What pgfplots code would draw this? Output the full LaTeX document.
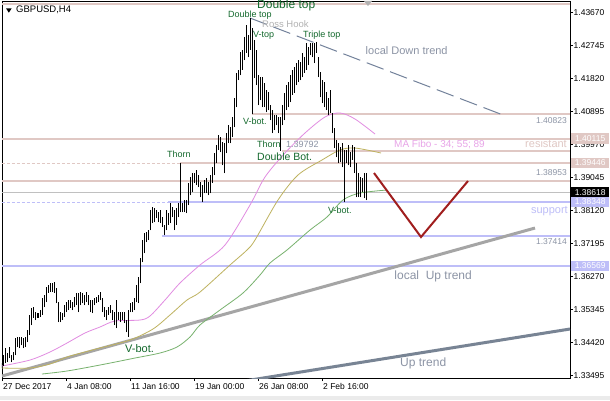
\documentclass[border=0pt]{standalone}
\usepackage{fontspec}
\setmainfont{Liberation Sans}
\usepackage{pgfplots}
\usepackage{pgfplotstable}
\pgfplotsset{compat=1.18}

\definecolor{rosy}{RGB}{224,200,196}
\definecolor{lav}{RGB}{190,190,248}
\definecolor{curgray}{RGB}{192,192,192}
\definecolor{lblgreen}{RGB}{20,105,45}
\definecolor{trendgray}{RGB}{165,165,165}
\definecolor{slate}{RGB}{120,132,148}
\definecolor{dnslate}{RGB}{115,130,155}
\definecolor{txtgray}{RGB}{140,148,165}
\definecolor{mapink}{RGB}{225,140,225}
\definecolor{maolive}{RGB}{190,178,95}
\definecolor{magreen}{RGB}{120,178,110}
\definecolor{vred}{RGB}{160,30,30}
\definecolor{fibopink}{RGB}{232,165,232}

\newcommand\fs[1]{\fontsize{#1}{#1}\selectfont}

% H4 bars: index, low, high
\pgfplotstableread{
i lo hi
0 1.33700 1.33840
1 1.33756 1.34065
2 1.33840 1.34261
3 1.33868 1.34121
4 1.33981 1.34289
5 1.33868 1.34065
6 1.33924 1.34149
7 1.34065 1.34542
8 1.34289 1.34570
9 1.34261 1.34570
10 1.34345 1.34570
11 1.34261 1.34542
12 1.34289 1.34570
13 1.34429 1.34766
14 1.34626 1.35187
15 1.34906 1.35383
16 1.35103 1.35411
17 1.35046 1.35271
18 1.35103 1.35243
19 1.35131 1.35327
20 1.35187 1.35664
21 1.35411 1.35748
22 1.35551 1.35972
23 1.35804 1.36028
24 1.35832 1.36084
25 1.35832 1.36084
26 1.35804 1.36112
27 1.35523 1.35944
28 1.34990 1.35551
29 1.34990 1.35271
30 1.35046 1.35243
31 1.35131 1.35467
32 1.35271 1.35551
33 1.35327 1.35607
34 1.35383 1.35607
35 1.35327 1.35551
36 1.35411 1.35691
37 1.35467 1.35804
38 1.35271 1.35804
39 1.35467 1.35832
40 1.35523 1.35804
41 1.35467 1.35748
42 1.35551 1.35832
43 1.35467 1.35748
44 1.35271 1.35607
45 1.35243 1.35607
46 1.35467 1.35664
47 1.35523 1.35691
48 1.35551 1.35748
49 1.35607 1.35832
50 1.35271 1.35664
51 1.35131 1.35411
52 1.35046 1.35327
53 1.35187 1.35411
54 1.35243 1.35467
55 1.35046 1.35327
56 1.34906 1.35271
57 1.34822 1.35607
58 1.35046 1.35271
59 1.34990 1.35271
60 1.35046 1.35271
61 1.34962 1.35271
62 1.34710 1.35046
63 1.34570 1.35327
64 1.35271 1.35523
65 1.35271 1.35551
66 1.35327 1.35664
67 1.35551 1.36028
68 1.35523 1.36252
69 1.36084 1.36785
70 1.36673 1.37290
71 1.36925 1.37486
72 1.37234 1.37514
73 1.37290 1.37570
74 1.37570 1.38131
75 1.37767 1.38215
76 1.37795 1.38187
77 1.37907 1.38131
78 1.37795 1.38075
79 1.37767 1.38131
80 1.37655 1.37935
81 1.37430 1.37711
82 1.37570 1.38131
83 1.37711 1.38047
84 1.37767 1.38328
85 1.37935 1.38215
86 1.37570 1.38131
87 1.37711 1.38187
88 1.37935 1.38328
89 1.38075 1.39446
90 1.38075 1.38328
91 1.38075 1.38412
92 1.38047 1.38412
93 1.38271 1.38889
94 1.38552 1.39057
95 1.38636 1.39169
96 1.38889 1.39169
97 1.38832 1.39253
98 1.38776 1.39113
99 1.38496 1.38917
100 1.38356 1.38832
101 1.38608 1.38973
102 1.38608 1.39029
103 1.38552 1.38917
104 1.38608 1.39113
105 1.38889 1.39337
106 1.39113 1.39730
107 1.39449 1.39954
108 1.39814 1.40235
109 1.39758 1.40179
110 1.39393 1.40038
111 1.39169 1.40010
112 1.39730 1.40291
113 1.40010 1.40515
114 1.40010 1.40459
115 1.40179 1.40740
116 1.40459 1.41272
117 1.41020 1.41974
118 1.41777 1.42058
119 1.41917 1.42563
120 1.42058 1.42619
121 1.42338 1.42983
122 1.42535 1.43320
123 1.42422 1.43039
124 1.42619 1.43516
125 1.40823 1.43236
126 1.41833 1.42899
127 1.41637 1.42619
128 1.41076 1.41917
129 1.41216 1.41861
130 1.41020 1.41861
131 1.41020 1.41693
132 1.40880 1.41497
133 1.40936 1.41441
134 1.40655 1.41076
135 1.40291 1.40936
136 1.40375 1.40796
137 1.40515 1.40796
138 1.40291 1.40740
139 1.39792 1.40740
140 1.40515 1.41076
141 1.40655 1.41413
142 1.40936 1.41637
143 1.41020 1.41721
144 1.41160 1.41917
145 1.41357 1.42058
146 1.41413 1.42142
147 1.41637 1.42254
148 1.41721 1.42338
149 1.41777 1.42282
150 1.41861 1.42535
151 1.41974 1.42422
152 1.42058 1.42815
153 1.42198 1.42703
154 1.42478 1.42815
155 1.42422 1.42815
156 1.42254 1.42815
157 1.42535 1.42843
158 1.41861 1.42422
159 1.41300 1.42002
160 1.41132 1.41777
161 1.41020 1.41721
162 1.40936 1.41441
163 1.40796 1.41272
164 1.40852 1.41497
165 1.40291 1.40852
166 1.39870 1.40431
167 1.39618 1.40095
168 1.39449 1.40010
169 1.39477 1.39898
170 1.39337 1.40010
171 1.38356 1.39814
172 1.39449 1.39814
173 1.39393 1.39954
174 1.39337 1.39758
175 1.39534 1.39954
176 1.39169 1.39898
177 1.38496 1.39449
178 1.38496 1.39169
179 1.38496 1.39057
180 1.38636 1.39029
181 1.38468 1.39169
182 1.38412 1.39169
}\bars

\begin{document}
\begin{tikzpicture}
\fill[white] (0,0) rectangle (610pt,400pt);
\begin{axis}[
    at={(2pt,22pt)}, anchor=south west,
    width=568pt, height=377pt, scale only axis,
    xmin=0, xmax=284, ymin=1.33420, ymax=1.43993,
    axis line style={black, line width=0.8pt},
    tick align=outside, major tick length=3pt,
    tick style={black, line width=0.6pt},
    ytick pos=right, yticklabel pos=right,
    xtick pos=left,
    ytick={1.33495,1.34420,1.35345,1.36270,1.37195,1.38120,1.39045,1.39970,1.40895,1.41820,1.42745,1.43670},
    yticklabels={1.33495,1.34420,1.35345,1.36270,1.37195,1.38120,1.39045,1.39970,1.40895,1.41820,1.42745,1.43670},
    xtick={0,32,64,96,128,160},
    xticklabels={27 Dec 2017,4 Jan 08:00,11 Jan 16:00,19 Jan 00:00,26 Jan 08:00,2 Feb 16:00},
    tick label style={font=\fs{8.5}, inner sep=0pt},
    yticklabel style={anchor=west, xshift=0.5pt},
    xticklabel style={anchor=north west, xshift=1pt, yshift=-2pt},
    clip=true,
]
% level lines
\addplot[rosy, line width=2pt] coordinates {(0,1.43909) (284,1.43909)};
\addplot[rosy, line width=2pt] coordinates {(125,1.40823) (284,1.40823)};
\addplot[rosy, line width=2pt] coordinates {(0,1.40115) (284,1.40115)};
\addplot[rosy, line width=2pt] coordinates {(140,1.39792) (284,1.39792)};
\addplot[rosy, line width=1pt, dash pattern=on 3pt off 2pt] coordinates {(0,1.39446) (89,1.39446)};
\addplot[rosy, line width=2pt] coordinates {(89,1.39446) (284,1.39446)};
\addplot[rosy, line width=2pt] coordinates {(0,1.38953) (284,1.38953)};
\addplot[curgray, line width=1pt] coordinates {(0,1.38618) (284,1.38618)};
\addplot[lav, line width=1pt, dash pattern=on 3pt off 2pt] coordinates {(0,1.38348) (83,1.38348)};
\addplot[lav, line width=2pt] coordinates {(83,1.38348) (284,1.38348)};
\addplot[lav, line width=2pt] coordinates {(80,1.37414) (284,1.37414)};
\addplot[lav, line width=2pt] coordinates {(0,1.36569) (284,1.36569)};
% trend lines
\addplot[dnslate, line width=1pt, dash pattern=on 18pt off 7pt] coordinates {(124,1.43516) (250.5,1.40796)};
\addplot[trendgray, line width=3pt] coordinates {(0,1.33476) (266.5,1.37626)};
\addplot[slate, line width=3pt] coordinates {(119,1.33316) (284,1.34794)};
% moving averages 34, 55, 89
\addplot[mapink, line width=0.8pt, smooth] coordinates {
 (0,1.33756) (14,1.33924) (24,1.34149) (32.5,1.34401) (41.5,1.34682) (49,1.34850)
 (56.5,1.35018) (69,1.35046) (74,1.35159) (81.5,1.35607) (89,1.36084) (99,1.36589)
 (111.5,1.37150) (124,1.38271) (131.5,1.39057) (141.5,1.39730) (151.5,1.40291)
 (161.5,1.40740) (169,1.40852) (176.5,1.40683) (186.5,1.40263)};
\addplot[maolive, line width=0.8pt, smooth] coordinates {
 (0,1.33700) (14,1.33700) (24,1.33812) (32.5,1.34009) (41.5,1.34149) (49,1.34261)
 (64,1.34485) (75.5,1.34794) (84,1.35187) (92.5,1.35607) (99,1.35831) (114,1.36589)
 (122.5,1.37010) (126.5,1.37290) (138,1.38412) (148,1.39113) (160,1.39534)
 (169,1.39814) (176.5,1.39870) (189.5,1.39730)};
\addplot[magreen, line width=0.8pt, smooth] coordinates {
 (20,1.33532) (32.5,1.33616) (49,1.33784) (66.5,1.33980) (79,1.34121) (87.5,1.34289)
 (94,1.34570) (99,1.34906) (109,1.35327) (120.5,1.35804) (129,1.36308) (134,1.36645)
 (142.5,1.37010) (154,1.37570) (162.5,1.37935) (170.5,1.38412) (179,1.38608) (192.5,1.38692)};
% bars
\addplot[only marks, mark=*, mark size=0pt, mark options={draw=none, fill=none},
  error bars/.cd, y dir=plus, y explicit, error mark=none,
  error bar style={draw=black, line width=1pt}]
  table[x=i, y=lo, y error expr=\thisrow{hi}-\thisrow{lo}] {\bars};
% projection
\addplot[vred, line width=2pt] coordinates {(186,1.39169) (209.5,1.37374) (233,1.38945)};
\end{axis}

\begin{scope}[x=1pt, y=-1pt, shift={(0pt,400pt)}]
\fill[black!8] (0,396) rectangle (610,400);
\fill[black] (6,8.3) -- (11.7,8.3) -- (8.85,12.7) -- cycle;
\node[anchor=west, inner sep=0pt, font=\fs{9.5}] at (16,10) {GBPUSD,H4};
\fill[black!30] (364,1) -- (372,1) -- (368,6) -- cycle;
\node[anchor=base west, inner sep=0pt, font=\fs{12}, text=lblgreen] at (257,8.5) {Double top};
\node[anchor=west, inner sep=0pt, font=\fs{9}, text=lblgreen] at (228,15) {Double top};
\node[anchor=west, inner sep=0pt, font=\fs{9.5}, text=black!30] at (262,24.5) {Ross Hook};
\node[anchor=west, inner sep=0pt, font=\fs{9}, text=lblgreen] at (253,35.5) {V-top};
\node[anchor=west, inner sep=0pt, font=\fs{9}, text=lblgreen] at (303,35.5) {Triple top};
\node[anchor=west, inner sep=0pt, font=\fs{11}, text=txtgray] at (365.5,51) {local Down trend};
\node[anchor=west, inner sep=0pt, font=\fs{9}, text=lblgreen] at (243,121.5) {V-bot.};
\node[anchor=west, inner sep=0pt, font=\fs{9}, text=lblgreen] at (167,154) {Thorn};
\node[anchor=west, inner sep=0pt, font=\fs{9}, text=lblgreen] at (257,144.5) {Thorn};
\node[anchor=west, inner sep=0pt, font=\fs{9}, text=txtgray] at (286,144.5) {1.39792};
\node[anchor=west, inner sep=0pt, font=\fs{10.5}, text=lblgreen] at (257,157) {Double Bot.};
\node[anchor=west, inner sep=0pt, font=\fs{9}, text=lblgreen] at (328,210.5) {V-bot.};
\node[anchor=west, inner sep=0pt, font=\fs{11}, text=lblgreen] at (125,349) {V-bot.};
\node[anchor=east, inner sep=0pt, font=\fs{10}, text=fibopink] at (485,145) {MA Fibo - 34; 55; 89};
\node[anchor=east, inner sep=0pt, font=\fs{11}, text=rosy] at (567,144) {resistant};
\node[anchor=east, inner sep=0pt, font=\fs{11}, text=lav] at (568,211) {support};
\node[anchor=east, inner sep=0pt, font=\fs{12}, text=txtgray] at (472,276.5) {local\ \ Up trend};
\node[anchor=west, inner sep=0pt, font=\fs{12}, text=txtgray] at (400,363.5) {Up trend};
\node[anchor=east, inner sep=0pt, font=\fs{8.5}, text=txtgray] at (567,121) {1.40823};
\node[anchor=east, inner sep=0pt, font=\fs{8.5}, text=txtgray] at (567,172.5) {1.38953};
\node[anchor=east, inner sep=0pt, font=\fs{8.5}, text=txtgray] at (567,242) {1.37414};
% price boxes on the scale
\node[anchor=west, fill=rosy, text=white, inner sep=0pt, minimum width=38pt, minimum height=10.5pt, font=\fs{8.5}] at (571,138.7) {1.40115};
\node[anchor=west, fill=rosy, text=white, inner sep=0pt, minimum width=38pt, minimum height=10.5pt, font=\fs{8.5}] at (571,162.8) {1.39446};
\node[anchor=west, fill=black, text=white, inner sep=0pt, minimum width=38pt, minimum height=9.5pt, font=\fs{8.5}] at (571,192.2) {1.38618};
\node[anchor=west, fill=lav, text=white, inner sep=0pt, minimum width=38pt, minimum height=9.5pt, font=\fs{8.5}] at (571,202) {1.38348};
\node[anchor=west, fill=lav, text=white, inner sep=0pt, minimum width=38pt, minimum height=10pt, font=\fs{8.5}] at (571,265.5) {1.36569};
\end{scope}
\pgfresetboundingbox
\path (0,0) rectangle (610pt,400pt);
\end{tikzpicture}
\end{document}
